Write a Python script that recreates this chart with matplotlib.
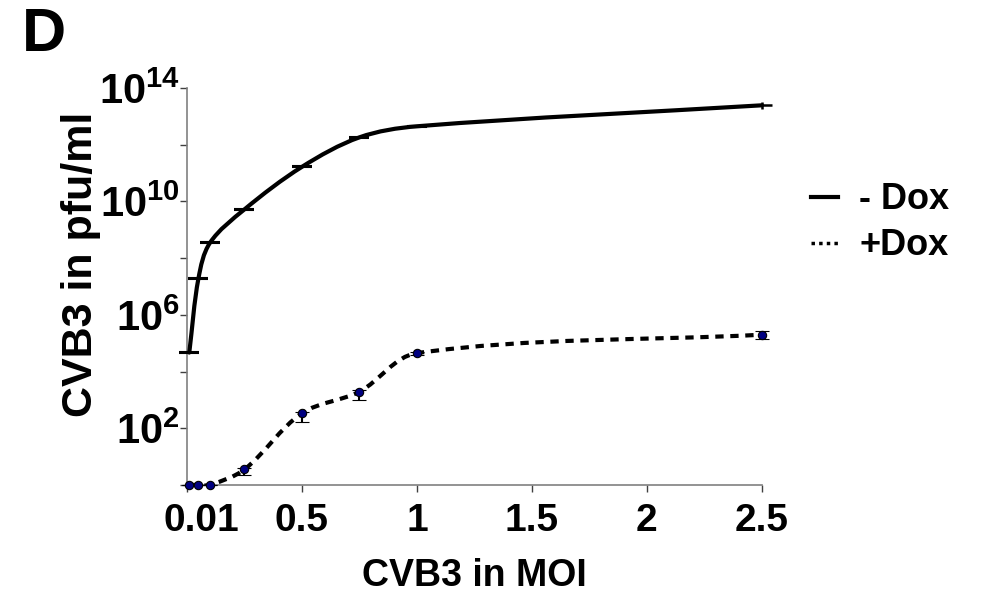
import numpy as np
import matplotlib
matplotlib.use("Agg")
from matplotlib import pyplot as plt
from matplotlib.path import Path
from matplotlib.patches import PathPatch
from matplotlib.lines import Line2D
from matplotlib.transforms import ScaledTranslation

plt.rcParams["font.family"] = "Liberation Sans"
plt.rcParams["font.weight"] = "bold"
plt.rcParams["mathtext.fontset"] = "custom"
plt.rcParams["mathtext.rm"] = "Liberation Sans:bold"
plt.rcParams["mathtext.bf"] = "Liberation Sans:bold"

#* values (y in pfu/ml, errors in decades)
moi = [0.01, 0.05, 0.1, 0.25, 0.5, 0.75, 1.0, 2.5]
minus_dox = [10**4.67, 10**7.29, 10**8.54, 10**9.72, 10**11.22, 10**12.26, 10**12.65, 10**13.39]
minus_dox_err = [0.02, 0.02, 0.02, 0.02, 0.02, 0.02, 0.02, 0.12]
plus_dox = [1.0, 1.0, 1.0, 10**0.55, 10**2.53, 10**3.29, 10**4.65, 10**5.30]
plus_dox_err_lo = [0.0, 0.0, 0.0, 0.2, 0.32, 0.28, 0.05, 0.14]
plus_dox_err_hi = [0.0, 0.0, 0.0, 0.05, 0.05, 0.05, 0.05, 0.14]

xticks = [0, 0.5, 1, 1.5, 2, 2.5]
xtick_labels = ["0.01", "0.5", "1", "1.5", "2", "2.5"]
yticks = [10**k for k in range(0, 15, 2)]
ytick_labels = {2: r"$\mathbf{10^{2}}$", 6: r"$\mathbf{10^{6}}$",
                10: r"$\mathbf{10^{10}}$", 14: r"$\mathbf{10^{14}}$"}


def smooth_path(ax, xs, ys, k=0.33):
    '''
    Builds a smoothed (bezier) path through the points, like Excel's smoothed lines
    '''
    pts = ax.transData.transform(np.column_stack([xs, ys]))
    n = len(pts)
    tang = []
    for i in range(n):
        d = pts[min(i + 1, n - 1)] - pts[max(i - 1, 0)]
        tang.append(d / np.hypot(*d))
    verts = [pts[0]]
    codes = [Path.MOVETO]
    for i in range(n - 1):
        seg = np.hypot(*(pts[i + 1] - pts[i]))
        verts += [pts[i] + tang[i] * seg * k, pts[i + 1] - tang[i + 1] * seg * k, pts[i + 1]]
        codes += [Path.CURVE4] * 3
    return Path(ax.transData.inverted().transform(np.array(verts)), codes)


def err_bounds(vals, lo, hi):
    vals = np.array(vals)
    return [vals - vals / 10**np.array(lo), vals * 10**np.array(hi) - vals]


fig = plt.figure(figsize=(9.81, 6.02), dpi=100)
ax = fig.add_axes([0.1906, 0.1944, 0.586, 0.6594])
ax.set_yscale("log")
ax.set_xlim(0, 2.5)
ax.set_ylim(1, 1e14)

for side in ["top", "right"]:
    ax.spines[side].set_visible(False)
for side in ["left", "bottom"]:
    ax.spines[side].set_color("#808080")
    ax.spines[side].set_linewidth(1.2)

ax.set_xticks(xticks)
ax.set_xticklabels(xtick_labels, fontsize=28, fontweight="bold")
ax.set_yticks(yticks)
ax.set_yticklabels([ytick_labels.get(k, "") for k in range(0, 15, 2)], fontsize=30)
ax.yaxis.set_minor_locator(matplotlib.ticker.NullLocator())
ax.tick_params(axis="both", length=5, width=1, color="#404040")
ax.tick_params(axis="y", pad=0)
ax.tick_params(axis="x", pad=8)
# first label sits to the right of the axis origin
lbl = ax.get_xticklabels()[0]
lbl.set_transform(lbl.get_transform() + ScaledTranslation(14 / 100, 0, fig.dpi_scale_trans))

# - Dox
ax.add_patch(PathPatch(smooth_path(ax, moi, minus_dox), fill=False, lw=3, color="black",
                       capstyle="round", clip_on=False, zorder=3))
ax.errorbar(moi[:-1], minus_dox[:-1],
            yerr=err_bounds(minus_dox[:-1], minus_dox_err[:-1], minus_dox_err[:-1]), fmt="none",
            ecolor="black", elinewidth=1.2, capsize=7, capthick=1.5, clip_on=False, zorder=4)
ax.errorbar(moi[-1:], minus_dox[-1:], yerr=err_bounds(minus_dox[-1:], minus_dox_err[-1:], minus_dox_err[-1:]),
            fmt="_", ms=14, mew=1.8, color="black", elinewidth=1.8, capsize=0, clip_on=False, zorder=4)

# + Dox
ax.add_patch(PathPatch(smooth_path(ax, moi, plus_dox), fill=False, lw=3, color="black",
                       linestyle=(0, (2.0, 1.6)), capstyle="butt", zorder=3))
ax.errorbar(moi, plus_dox, yerr=err_bounds(plus_dox, plus_dox_err_lo, plus_dox_err_hi), fmt="o",
            ms=6, mfc="#000080", mec="black", mew=0.8, ecolor="black", elinewidth=1.5,
            capsize=5, capthick=1.5, clip_on=False, zorder=5)

ax.set_xlabel("CVB3 in MOI", fontsize=27, fontweight="bold", labelpad=14)
ax.set_ylabel("CVB3 in pfu/ml", fontsize=31, fontweight="bold")
ax.yaxis.set_label_coords(-0.15, 0.555)

fig.text(0.022, 0.915, "D", fontsize=44, fontweight="bold")

handles = [Line2D([], [], color="black", lw=3),
           Line2D([], [], color="black", lw=2.5, ls=(0, (1, 1.2)))]
fig.legend(handles, ["- Dox", "+Dox"], loc="center left", bbox_to_anchor=(0.808, 0.63),
           frameon=False, handlelength=0.75, handletextpad=0.6,
           labelspacing=0.3, borderpad=0, prop={"weight": "bold", "size": 26})

plt.savefig("out.png", dpi=100)
